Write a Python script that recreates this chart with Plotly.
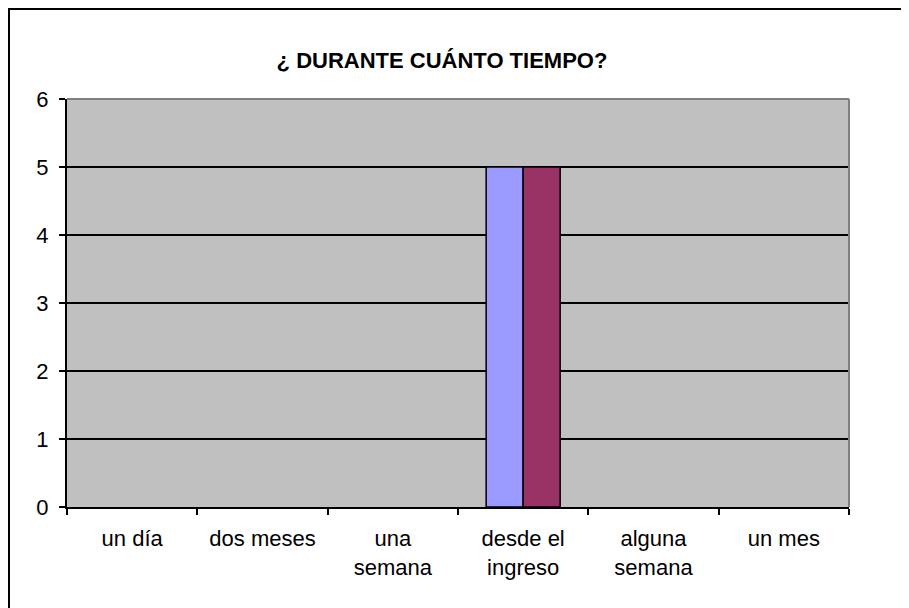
import plotly.graph_objects as go

categories = ["un día", "dos meses", "una<br>semana", "desde el<br>ingreso", "alguna<br>semana", "un mes"]
serie1 = [0, 0, 0, 5, 0, 0]
serie2 = [0, 0, 0, 5, 0, 0]
title_text = "¿ DURANTE CUÁNTO TIEMPO?"

# page body adds an 8px margin, so the figure is laid out in shifted coordinates
OFF = 8
W, H = 909 - OFF, 608 - OFF
L, R, T, B = 67 - OFF, 849 - OFF, 99 - OFF, 507 - OFF

font = "Liberation Sans, Arial, sans-serif"

def outline(vals):
    return [1.5 if v else 0 for v in vals]

fig = go.Figure()
fig.add_trace(go.Bar(x=categories, y=serie1, name="Serie1",
                     marker=dict(color="#9999FF", line=dict(color="black", width=outline(serie1)))))
fig.add_trace(go.Bar(x=categories, y=serie2, name="Serie2",
                     marker=dict(color="#993366", line=dict(color="black", width=outline(serie2)))))

pw, ph = R - L, B - T
def px(x): return (x - L) / pw
def py(y): return (B - y) / ph

fig.update_layout(
    width=W, height=H,
    margin=dict(l=L, r=W - R, t=T, b=H - B),
    paper_bgcolor="white", plot_bgcolor="#C0C0C0",
    showlegend=False,
    barmode="group", bargap=0.432, bargroupgap=0,
    font=dict(family=font, size=22, color="black"),
    title=dict(text="<b>" + title_text + "</b>", x=(442 - OFF) / W, xanchor="center",
               y=1 - (60 - OFF) / H, yanchor="middle", yref="container",
               font=dict(family=font, size=22, color="black")),
    xaxis=dict(showgrid=False, showline=True, linecolor="black", linewidth=2,
               ticks="outside", ticklen=6, tickwidth=2, tickcolor="black",
               tickson="boundaries", ticklabelstandoff=11, zeroline=False,
               tickfont=dict(size=22)),
    yaxis=dict(range=[0, 6], dtick=1, showgrid=True, gridcolor="black", gridwidth=1.5,
               showline=True, linecolor="black", linewidth=2,
               ticks="outside", ticklen=6, tickwidth=2, tickcolor="black",
               ticklabelstandoff=6, zeroline=False, tickfont=dict(size=22)),
    shapes=[
        dict(type="line", xref="paper", yref="paper", x0=0, x1=1, y0=1, y1=1,
             line=dict(color="#808080", width=2)),
        dict(type="line", xref="paper", yref="paper", x0=1, x1=1, y0=0, y1=1,
             line=dict(color="#808080", width=2)),
        dict(type="rect", xref="paper", yref="paper",
             x0=px(1), x1=px(W + 20), y0=py(H + 20), y1=py(1),
             line=dict(color="black", width=2), fillcolor="rgba(0,0,0,0)", layer="above"),
    ],
)

fig.write_html("out.html")
